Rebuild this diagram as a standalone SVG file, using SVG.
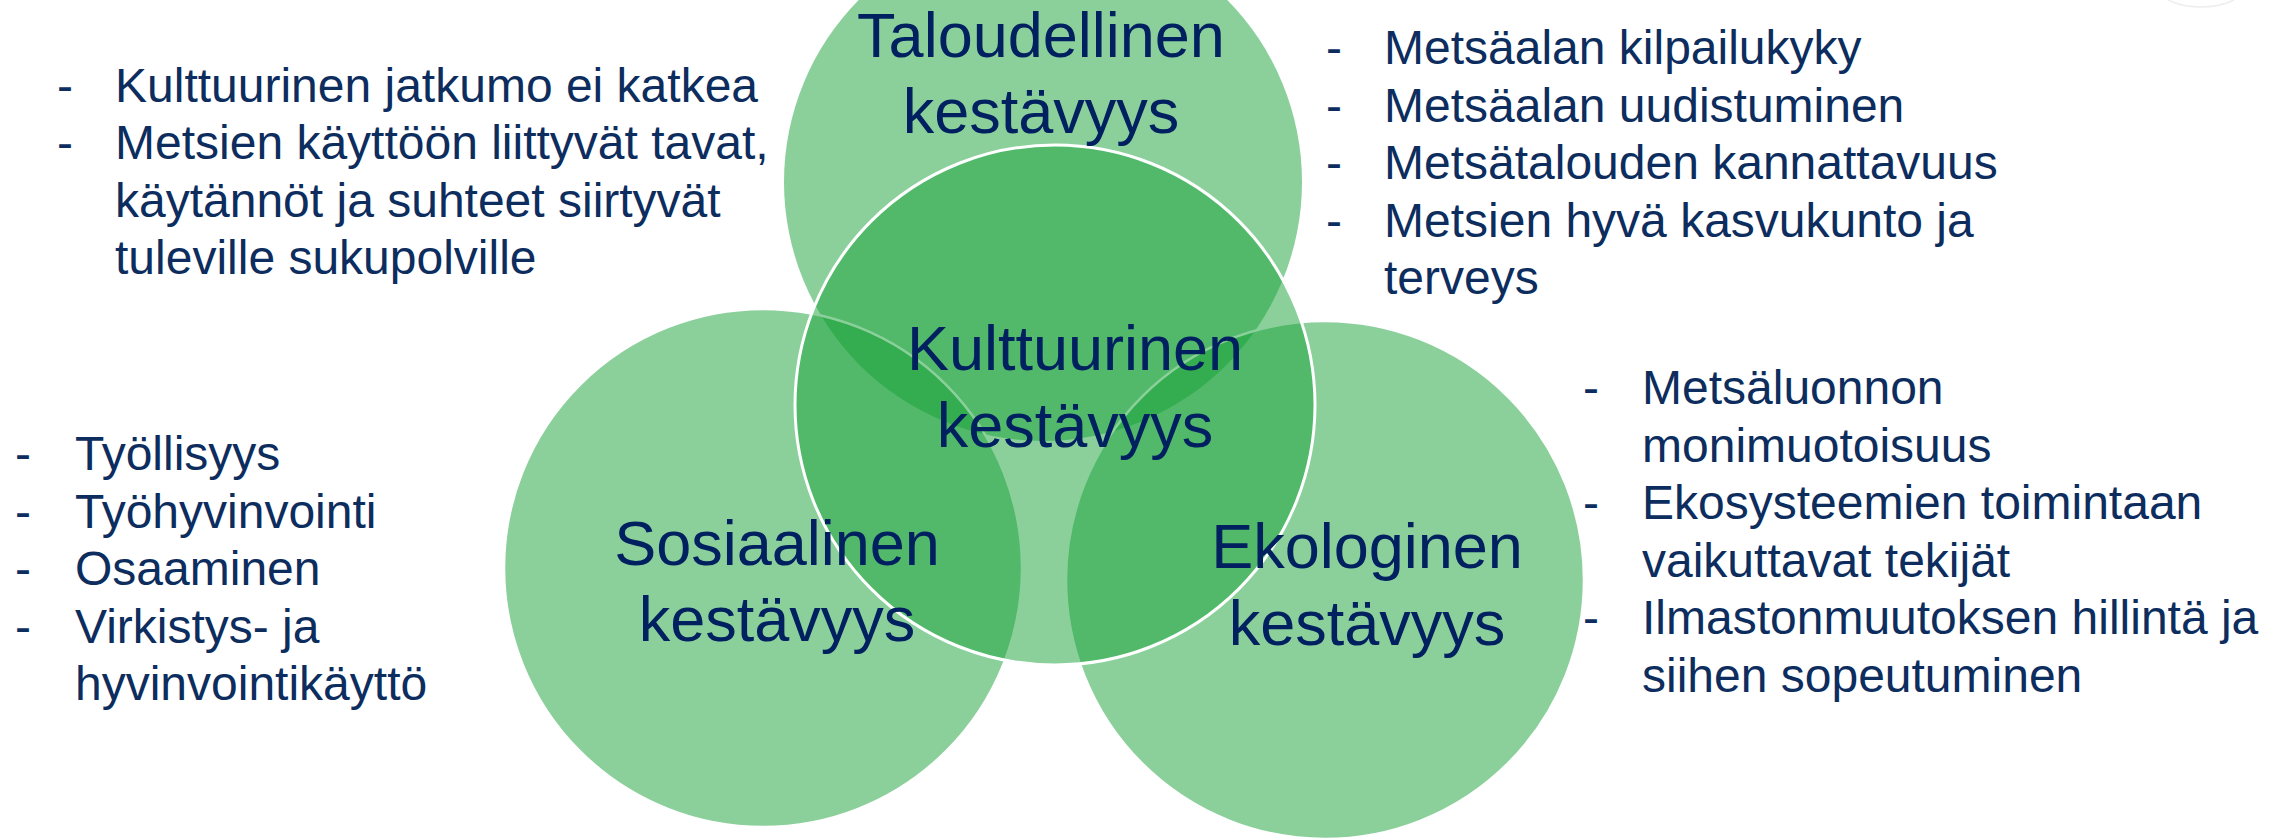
<svg xmlns="http://www.w3.org/2000/svg" width="2281" height="838" viewBox="0 0 2281 838">
<style>
.c{fill:#17A137;fill-opacity:0.5}
.cs{stroke:#FFFFFF;stroke-width:2.5}
.cc{stroke:#FFFFFF;stroke-width:3}
.lab{font-family:"Liberation Sans",Arial,sans-serif;font-size:63px;fill:#002060;text-anchor:middle}
.lst{font-family:"Liberation Sans",Arial,sans-serif;font-size:48px;fill:#0C2D5E}
</style>
<rect width="2281" height="838" fill="#FFFFFF"/>
<ellipse cx="2201" cy="-10" rx="40" ry="17" fill="none" stroke="#EEEEEE" stroke-width="1.5"/>
<g id="node-taloudellinen-shape"><circle class="c" cx="1043" cy="182" r="259"/></g>
<g id="node-sosiaalinen-shape"><circle class="c cs" cx="763" cy="568" r="259"/></g>
<g id="node-ekologinen-shape"><circle class="c cs" cx="1325" cy="580" r="259"/></g>
<g id="node-kulttuurinen-shape"><circle class="c cc" cx="1055" cy="405" r="260"/></g>
<g id="connectors"/>
<g id="node-taloudellinen">
<text class="lab" x="1041" y="57">Taloudellinen</text>
<text class="lab" x="1041" y="133">kestävyys</text>
</g>
<g id="node-kulttuurinen">
<text class="lab" x="1075" y="370">Kulttuurinen</text>
<text class="lab" x="1075" y="447">kestävyys</text>
</g>
<g id="node-sosiaalinen">
<text class="lab" x="777" y="565">Sosiaalinen</text>
<text class="lab" x="777" y="641">kestävyys</text>
</g>
<g id="node-ekologinen">
<text class="lab" x="1367" y="568">Ekologinen</text>
<text class="lab" x="1367" y="645">kestävyys</text>
</g>
<g id="list-kulttuurinen" class="lst">
<text x="57" y="102">-</text><text x="115" y="102">Kulttuurinen jatkumo ei katkea</text>
<text x="57" y="159.4">-</text><text x="115" y="159.4">Metsien käyttöön liittyvät tavat,</text>
<text x="115" y="216.8">käytännöt ja suhteet siirtyvät</text>
<text x="115" y="274.2">tuleville sukupolville</text>
</g>
<g id="list-taloudellinen" class="lst">
<text x="1326" y="64">-</text><text x="1384" y="64">Metsäalan kilpailukyky</text>
<text x="1326" y="121.5">-</text><text x="1384" y="121.5">Metsäalan uudistuminen</text>
<text x="1326" y="179">-</text><text x="1384" y="179">Metsätalouden kannattavuus</text>
<text x="1326" y="236.5">-</text><text x="1384" y="236.5">Metsien hyvä kasvukunto ja</text>
<text x="1384" y="294">terveys</text>
</g>
<g id="list-sosiaalinen" class="lst">
<text x="15" y="470">-</text><text x="75" y="470">Työllisyys</text>
<text x="15" y="527.5">-</text><text x="75" y="527.5">Työhyvinvointi</text>
<text x="15" y="585">-</text><text x="75" y="585">Osaaminen</text>
<text x="15" y="642.5">-</text><text x="75" y="642.5">Virkistys- ja</text>
<text x="75" y="700">hyvinvointikäyttö</text>
</g>
<g id="list-ekologinen" class="lst">
<text x="1583" y="404">-</text><text x="1642" y="404">Metsäluonnon</text>
<text x="1642" y="461.5">monimuotoisuus</text>
<text x="1583" y="519">-</text><text x="1642" y="519">Ekosysteemien toimintaan</text>
<text x="1642" y="576.5">vaikuttavat tekijät</text>
<text x="1583" y="634">-</text><text x="1642" y="634">Ilmastonmuutoksen hillintä ja</text>
<text x="1642" y="691.5">siihen sopeutuminen</text>
</g>
</svg>
